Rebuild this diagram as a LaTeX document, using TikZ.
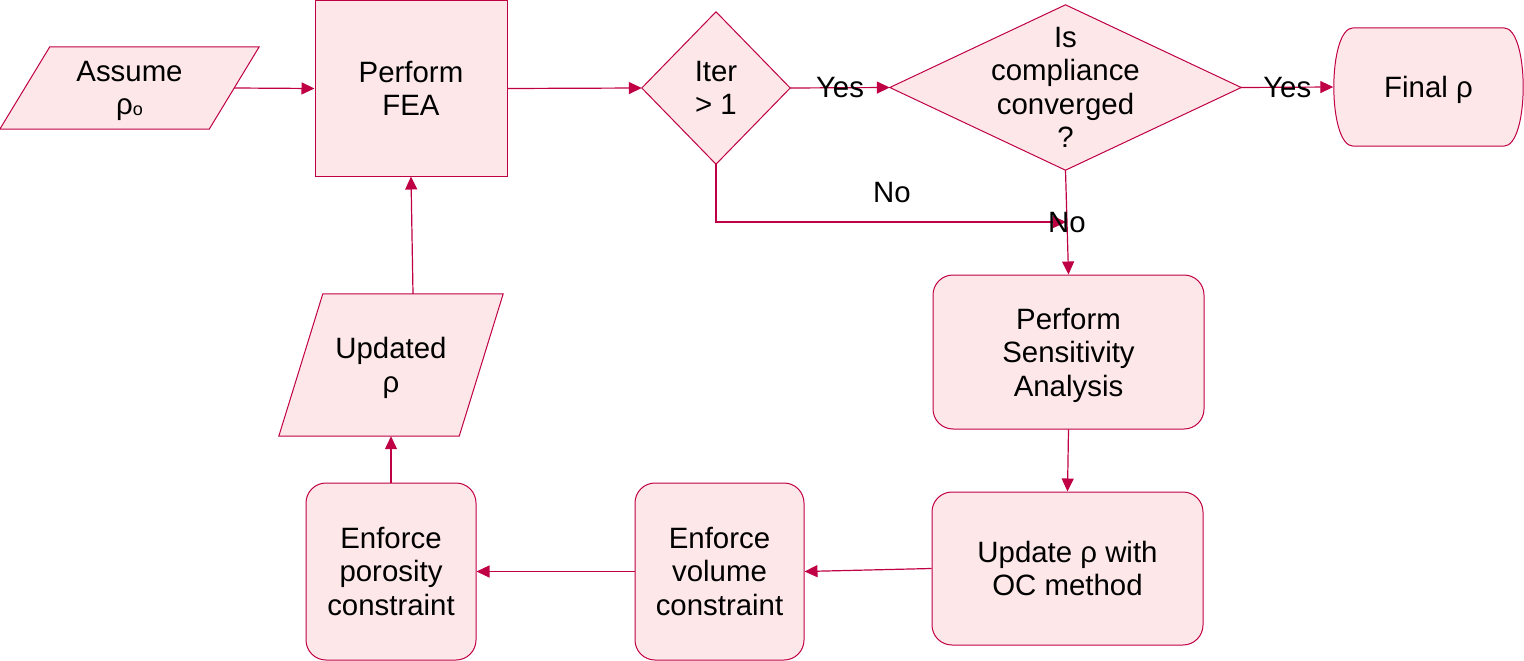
\documentclass[tikz,border=0pt]{standalone}
\usepackage{fontspec}
\setmainfont{Liberation Sans}
\usetikzlibrary{arrows.meta,calc,backgrounds}
\definecolor{lc}{HTML}{C00045}
\definecolor{fc}{HTML}{FDE7E8}
\newcommand{\lowr}[1]{\raisebox{-3pt}[\height][\depth]{#1}}
\begin{document}
\begin{tikzpicture}[x=1pt,y=-1pt, font=\fontsize{29.4}{33.5}\selectfont,
 box/.style={draw=lc, fill=fc, line width=1pt, align=center, inner sep=0pt},
 plain/.style={align=center, inner sep=0pt},
 rbox/.style={box, rounded corners=20pt},
 shp/.style={draw=lc, fill=fc, line width=1pt},
 conn/.style={draw=lc, line width=1.2pt, -{Triangle[length=13pt,width=12pt]}},
 lbl/.style={inner sep=0pt}]
\useasboundingbox (0,0) rectangle (1524,661);

\node[plain, minimum width=209, minimum height=82] (assume) at (129.5,88) {\lowr{Assume}\\\lowr{ρ\raisebox{-1pt}{\fontsize{18}{18}\selectfont o}}};
\node[box, minimum width=192, minimum height=175] (fea) at (411,88.5) {Perform\\FEA};
\node[plain, minimum width=148, minimum height=152] (iter) at (716,88) {Iter\\> 1};
\node[plain, minimum width=351, minimum height=165] (conv) at (1065.5,87.5) {Is\\compliance\\converged\\?};
\node[plain, minimum width=190, minimum height=118] (fin) at (1428.5,87) {\lowr{Final ρ}};
\node[rbox, minimum width=271, minimum height=154] (sens) at (1068.5,352) {\lowr{Perform}\\\lowr{Sensitivity}\\\lowr{Analysis}};
\node[rbox, minimum width=271, minimum height=153] (oc) at (1067.5,568.5) {Update ρ with\\OC method};
\node[rbox, minimum width=169, minimum height=177] (vol) at (719.5,571.5) {Enforce\\volume\\constraint};
\node[rbox, minimum width=170, minimum height=177] (por) at (391,571.5) {Enforce\\porosity\\constraint};
\node[plain, minimum width=180, minimum height=142] (upd) at (391,365) {\lowr{Updated}\\\lowr{ρ}};

\begin{scope}[on background layer]
\path[shp] ($(assume.north west)+(25,0)$) -- ($(assume.north east)+(25,0)$) -- ($(assume.south east)+(-25,0)$) -- ($(assume.south west)+(-25,0)$) -- cycle;
\path[shp] ($(upd.north west)+(22,0)$) -- ($(upd.north east)+(22,0)$) -- ($(upd.south east)+(-22,0)$) -- ($(upd.south west)+(-22,0)$) -- cycle;
\path[shp] (iter.west) -- (iter.north) -- (iter.east) -- (iter.south) -- cycle;
\path[shp] (conv.west) -- (conv.north) -- (conv.east) -- (conv.south) -- cycle;
\path[shp] ($(fin.north west)+(20,0)$) -- ($(fin.north east)+(-20,0)$) .. controls ($(fin.north east)+(6,0)$) and ($(fin.south east)+(6,0)$) .. ($(fin.south east)+(-20,0)$) -- ($(fin.south west)+(20,0)$) .. controls ($(fin.south west)+(-6,0)$) and ($(fin.north west)+(-6,0)$) .. cycle;
\end{scope}

\coordinate (nj) at (1066,222);
\draw[conn] (assume.east) -- (fea.west);
\draw[conn] (fea.east) -- (iter.west);
\draw[conn] (iter.east) -- node[lbl]{Yes} (conv.west);
\draw[conn] (conv.east) -- node[lbl]{Yes} (fin.west);
\draw[conn] (iter.south) |- (nj);
\node[lbl] (no1) at (892,193) {No};
\draw[conn] (conv.south) -- node[lbl]{No} (sens.north);
\draw[conn] (sens.south) -- (oc.north);
\draw[conn] (oc.west) -- (vol.east);
\draw[conn] (vol.west) -- (por.east);
\draw[conn] (por.north) -- (upd.south);
\draw[conn] ($(upd.north)+(22,0)$) -- (fea.south);
\end{tikzpicture}
\end{document}
